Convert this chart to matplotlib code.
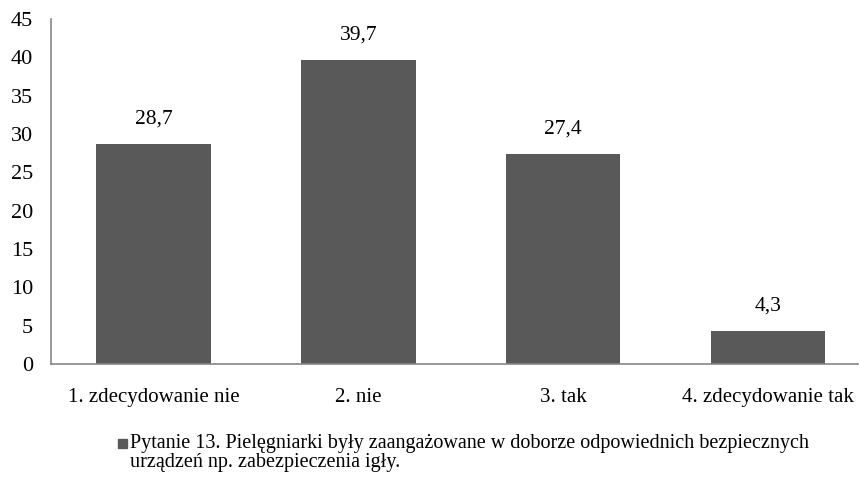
import matplotlib.pyplot as plt
from matplotlib.patches import Rectangle
import numpy as np

categories = ["1. zdecydowanie nie", "2. nie", "3. tak", "4. zdecydowanie tak"]
values = [28.7, 39.7, 27.4, 4.3]
value_labels = ["28,7", "39,7", "27,4", "4,3"]
yticks = [0, 5, 10, 15, 20, 25, 30, 35, 40, 45]
legend_label = ("Pytanie 13. Pielęgniarki były zaangażowane w doborze odpowiednich bezpiecznych\n"
                "urządzeń np. zabezpieczenia igły.")

plt.rcParams['font.family'] = ['Liberation Serif', 'DejaVu Serif']

fig = plt.figure(figsize=(8.6, 4.87), dpi=100)
ax = fig.add_axes([51 / 860, 1 - 364 / 487, 807 / 860, 345 / 487])

x = np.arange(len(categories))
bars = ax.bar(x, values, width=0.56, color="#595959")

for xi, v, lab in zip(x, values, value_labels):
    ax.annotate(lab, (xi, v), xytext=(0, 11), textcoords="offset points",
                ha="center", va="bottom", fontsize=15.5)

ax.set_xlim(-0.5, 3.44)
ax.set_ylim(0, 45)
ax.set_yticks(yticks)
ax.set_xticks(x)
ax.set_xticklabels(categories, fontsize=15)
ax.tick_params(axis="y", labelsize=16, length=0, pad=13)
ax.tick_params(axis="x", length=0, pad=17)

for s in ["top", "right"]:
    ax.spines[s].set_visible(False)
for s in ["left", "bottom"]:
    ax.spines[s].set_color("#868686")
    ax.spines[s].set_linewidth(1.2)

# legend: square marker + two-line label
fig.add_artist(Rectangle((118 / 860, 1 - 448 / 487), 9 / 860, 9 / 487,
                         transform=fig.transFigure, color="#595959"))
fig.text(130 / 860, 1 - 434 / 487, legend_label, fontsize=14.5, va="top", ha="left",
         linespacing=0.98)

fig.savefig("out.png", dpi=100)
